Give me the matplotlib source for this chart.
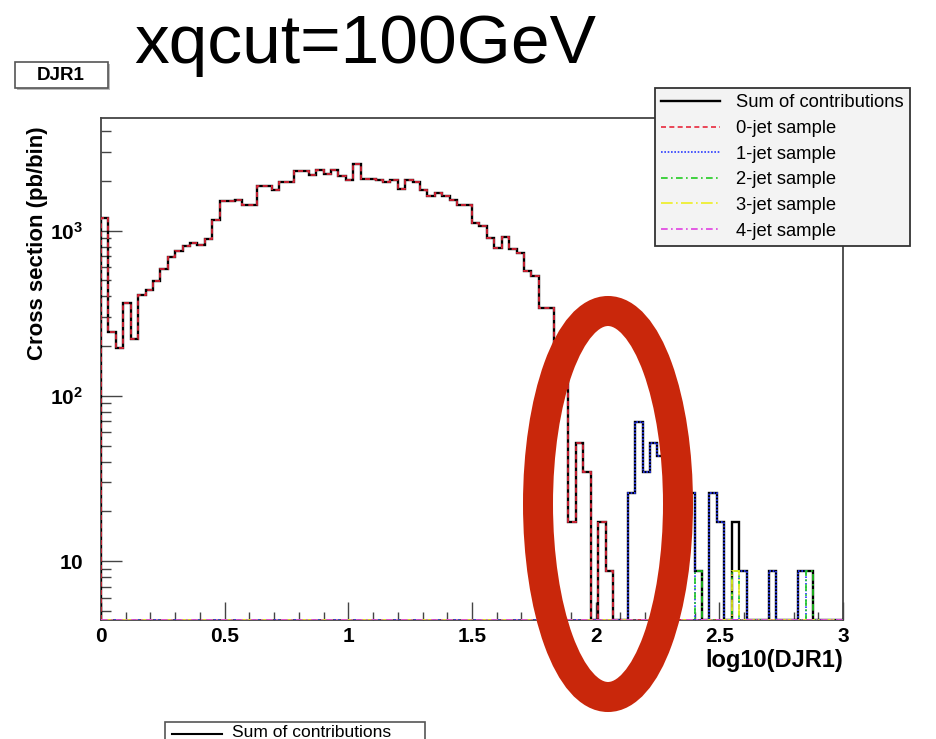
import numpy as np
import matplotlib.pyplot as plt
from matplotlib.patches import Ellipse, Rectangle
from matplotlib.lines import Line2D
from matplotlib.ticker import MultipleLocator, LogLocator, FixedLocator, FixedFormatter, NullFormatter
from matplotlib.transforms import IdentityTransform

plt.rcParams['font.family'] = ['Liberation Sans', 'DejaVu Sans']
plt.rcParams['mathtext.fontset'] = 'custom'
plt.rcParams['mathtext.rm'] = 'Liberation Sans'
plt.rcParams['mathtext.bf'] = 'Liberation Sans:bold'

#%% data: DJR1 histogram, 100 bins in log10(DJR1) from 0 to 3 (pb/bin)
n_bins = 100
x_range = (0.0, 3.0)

# 0-jet sample, bins 0..68
jet0_head = [1194, 243, 195, 365, 221, 409, 435, 493, 586, 692,
             749, 803, 842, 822, 895, 1166, 1515, 1515, 1527, 1420,
             1438, 1873, 1873, 1760, 1980, 1980, 2280, 2280, 2175, 2322,
             2206, 2322, 2153, 2020, 2535, 2058, 2058, 2020, 1963, 2036,
             1789, 2020, 1963, 1771, 1614, 1691, 1614, 1527, 1438, 1438,
             1113, 1062, 903, 785, 916, 774, 733, 566, 534, 340,
             340, 190, 140, 17.3, 51.9, 34.6, 0, 17.3, 8.65]
# higher multiplicity samples, bins 69..99
jet1_tail = [0, 0, 25.95, 69.2, 34.6, 51.9, 43.25, 25.95, 25.95, 25.95, 25.95,
             0, 0, 25.95, 17.3, 0, 0, 8.65, 0, 0, 0,
             8.65, 0, 0, 0, 8.65, 0, 0, 0, 0, 0]
jet2_tail = [0, 0, 0, 0, 0, 0, 0, 0, 0, 0, 0,
             8.65, 0, 0, 0, 0, 8.65, 0, 0, 0, 0,
             0, 0, 0, 0, 0, 8.65, 0, 0, 0, 0]
jet3_tail = [0, 0, 0, 0, 0, 0, 0, 0, 0, 0, 0,
             0, 0, 0, 0, 0, 8.65, 0, 0, 0, 0,
             0, 0, 0, 0, 0, 0, 0, 0, 0, 0]
jet4_tail = [0] * 31

labels = ['Sum of contributions', '0-jet sample', '1-jet sample',
          '2-jet sample', '3-jet sample', '4-jet sample']
x_ticks = [0, 0.5, 1, 1.5, 2, 2.5, 3]
x_ticklabels = ['0', '0.5', '1', '1.5', '2', '2.5', '3']
y_ticks = [10, 100, 1000]
y_ticklabels = [r'$\mathbf{10}$', r'$\mathbf{10^{2}}$', r'$\mathbf{10^{3}}$']

head = np.zeros(n_bins - len(jet1_tail))
jet0 = np.concatenate([jet0_head, np.zeros(n_bins - len(jet0_head))])
jet1 = np.concatenate([head, jet1_tail])
jet2 = np.concatenate([head, jet2_tail])
jet3 = np.concatenate([head, jet3_tail])
jet4 = np.concatenate([head, jet4_tail])
total = jet0 + jet1 + jet2 + jet3 + jet4
edges = np.linspace(x_range[0], x_range[1], n_bins + 1)

#%% figure
W, H = 937, 739
fig = plt.figure(figsize=(W / 100, H / 100), dpi=100)
ax = fig.add_axes([101 / W, 1 - 620 / H, (843 - 101) / W, (620 - 118) / H])

y_lo, y_hi = 4.4, 4800
ax.set_yscale('log')
ax.set_xlim(*x_range)
ax.set_ylim(y_lo, y_hi)

# ROOT draws empty bins along the bottom of the frame
def floor(v):
    return np.maximum(v, y_lo)

handles = []
h = ax.stairs(floor(total), edges, baseline=y_lo, color='black', lw=1.7, zorder=3)
handles.append(h)
styles = [(jet0, '#e8283c', (0, (3, 2))),
          (jet1, '#2b3cff', (0, (1, 1))),
          (jet2, '#22cc22', (0, (4, 2, 1, 2))),
          (jet3, '#eeee22', (0, (7, 2, 1, 2))),
          (jet4, '#e040e0', (0, (4, 2, 1, 2)))]
for vals, col, ls in styles:
    h = ax.stairs(floor(vals), edges, baseline=y_lo, color=col, lw=1.2,
                  linestyle=ls, zorder=4)
    handles.append(h)

# axes, ticks
for s in ax.spines.values():
    s.set_color('#444444')
    s.set_linewidth(1.3)
ax.xaxis.set_major_locator(FixedLocator(x_ticks))
ax.xaxis.set_major_formatter(FixedFormatter(x_ticklabels))
ax.xaxis.set_minor_locator(MultipleLocator(0.1))
ax.yaxis.set_major_locator(FixedLocator(y_ticks))
ax.yaxis.set_major_formatter(FixedFormatter(y_ticklabels))
ax.yaxis.set_minor_locator(LogLocator(base=10, subs=np.arange(2, 10)))
ax.yaxis.set_minor_formatter(NullFormatter())
ax.tick_params(which='both', direction='in', color='#444444', width=1.0)
ax.tick_params(axis='x', which='major', length=13, pad=5, labelsize=15)
ax.tick_params(axis='x', which='minor', length=6)
ax.tick_params(axis='y', which='major', length=15, pad=13, labelsize=15)
ax.tick_params(axis='y', which='minor', length=7)
for t in ax.get_xticklabels():
    t.set_fontweight('bold')

ax.set_xlabel('log10(DJR1)', fontsize=17, fontweight='bold', loc='right')
ax.xaxis.set_label_coords(1.0, -0.058)
ax.set_ylabel('Cross section (pb/bin)', fontsize=16, fontweight='bold')
ax.yaxis.set_label_coords(-0.071, 0.75)

# legend
leg = fig.legend(handles, labels, loc='upper left',
                 bbox_to_anchor=(655 / W, 1 - 88 / H), fontsize=13.2,
                 handlelength=3.2, handletextpad=0.85, labelspacing=0.47,
                 borderpad=0.35, borderaxespad=0, fancybox=False,
                 facecolor='#f3f3f3', edgecolor='#333333', framealpha=1)
leg.get_frame().set_linewidth(1.3)
leg.set_zorder(10)

# titles and boxes
fig.text(365 / W, 1 - 63 / H, 'xqcut=100GeV', fontsize=50, ha='center', va='baseline')
fig.add_artist(Rectangle((17 / W, 1 - 90 / H), 93 / W, 26 / H, transform=fig.transFigure,
                         fc='#bbbbbb', ec='none'))
fig.add_artist(Rectangle((15 / W, 1 - 88 / H), 93 / W, 26 / H, transform=fig.transFigure,
                         fc='white', ec='#555555', lw=1.2))
fig.text(61 / W, 1 - 75 / H, 'DJR1', fontsize=13.5, fontweight='bold', ha='center', va='center')

# second pad's legend peeking in at the bottom edge
fig.add_artist(Rectangle((165 / W, -10 / H), 260 / W, 27 / H, transform=fig.transFigure,
                         fc='white', ec='#555555', lw=1.2))
fig.add_artist(Line2D([172 / W, 222 / W], [1 - 734 / H, 1 - 734 / H],
                      transform=fig.transFigure, color='black', lw=1.5))
fig.text(232 / W, 1 - 725 / H, 'Sum of contributions', fontsize=12.5, ha='left', va='top')

# red annotation ellipse
fig.add_artist(Ellipse((608, H - 504), 140, 386, transform=IdentityTransform(),
                       fill=False, ec='#c9270b', lw=30 * 0.72, zorder=20))

fig.savefig('out.png', dpi=100)
